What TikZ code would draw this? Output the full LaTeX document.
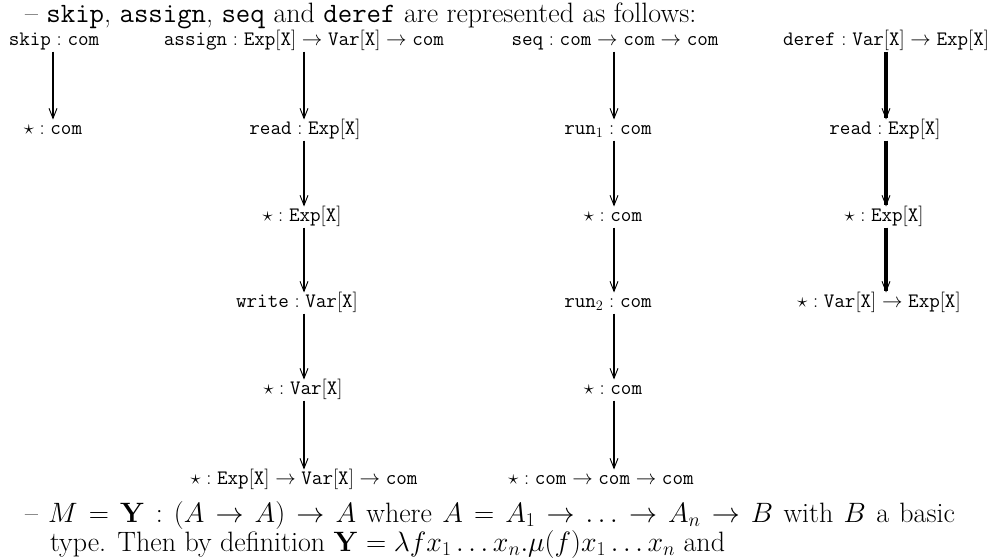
\RequirePackage{fix-cm}
\documentclass[tikz,border=0pt]{standalone}
\usetikzlibrary{arrows.meta}
\tikzset{
  body/.style={inner sep=0pt, outer sep=0pt, anchor=base west, font=\fontsize{28}{34}\selectfont},
  lbl/.style={inner sep=0pt, outer sep=0pt, text height=14pt, text depth=5pt, font=\fontsize{20.5}{24}\selectfont},
  arr/.style={line width=1.6pt, -{Straight Barb[length=10pt,width=8pt,line width=0.9pt]}, shorten <=1pt, shorten >=1pt},
  thickarr/.style={arr, line width=3.2pt}
}
\begin{document}
\begin{tikzpicture}[x=1pt,y=-1pt]
\useasboundingbox (0,0) rectangle (996,558);
% top text
\node[body, text depth=0pt] (top) at (25,22) {-- \texttt{skip}, \texttt{assign}, \texttt{seq} and \texttt{deref} are represented as follows:};
% column coordinates
\coordinate (c1) at (53,0);
\coordinate (c2) at (304,0);
\coordinate (c3) at (614,0);
\coordinate (c4) at (886,0);
% column 1
\node[lbl] (s0) at (54,41) {$\mathtt{skip} : \mathtt{com}$};
\node[lbl] (s1) at (53,130) {$\star : \mathtt{com}$};
% column 2
\node[lbl] (a0) at (304,41) {$\mathtt{assign} : \mathtt{Exp[X]} \to \mathtt{Var[X]} \to \mathtt{com}$};
\node[lbl] (a1) at (305,130) {$\mathtt{read} : \mathtt{Exp[X]}$};
\node[lbl] (a2) at (302,217) {$\star : \mathtt{Exp[X]}$};
\node[lbl] (a3) at (297,303) {$\mathtt{write} : \mathtt{Var[X]}$};
\node[lbl] (a4) at (303,390) {$\star : \mathtt{Var[X]}$};
\node[lbl] (a5) at (304,480) {$\star : \mathtt{Exp[X]} \to \mathtt{Var[X]} \to \mathtt{com}$};
% column 3
\node[lbl] (q0) at (615,41) {$\mathtt{seq} : \mathtt{com} \to \mathtt{com} \to \mathtt{com}$};
\node[lbl] (q1) at (608,130) {$\mathtt{run}_1 : \mathtt{com}$};
\node[lbl] (q2) at (613,217) {$\star : \mathtt{com}$};
\node[lbl] (q3) at (608,303) {$\mathtt{run}_2 : \mathtt{com}$};
\node[lbl] (q4) at (613,390) {$\star : \mathtt{com}$};
\node[lbl] (q5) at (601,480) {$\star : \mathtt{com} \to \mathtt{com} \to \mathtt{com}$};
% column 4
\node[lbl] (d0) at (886,41) {$\mathtt{deref} : \mathtt{Var[X]} \to \mathtt{Exp[X]}$};
\node[lbl] (d1) at (885,130) {$\mathtt{read} : \mathtt{Exp[X]}$};
\node[lbl] (d2) at (884,217) {$\star : \mathtt{Exp[X]}$};
\node[lbl] (d3) at (879,303) {$\star : \mathtt{Var[X]} \to \mathtt{Exp[X]}$};
% arrows
\draw[arr] (s0.south -| c1) -- (s1.north -| c1);
\draw[arr] (a0.south -| c2) -- (a1.north -| c2);
\draw[arr] (a1.south -| c2) -- (a2.north -| c2);
\draw[arr] (a2.south -| c2) -- (a3.north -| c2);
\draw[arr] (a3.south -| c2) -- (a4.north -| c2);
\draw[arr] (a4.south -| c2) -- (a5.north -| c2);
\draw[arr] (q0.south -| c3) -- (q1.north -| c3);
\draw[arr] (q1.south -| c3) -- (q2.north -| c3);
\draw[arr] (q2.south -| c3) -- (q3.north -| c3);
\draw[arr] (q3.south -| c3) -- (q4.north -| c3);
\draw[arr] (q4.south -| c3) -- (q5.north -| c3);
\draw[thickarr] (d0.south -| c4) -- (d1.north -| c4);
\draw[thickarr] (d1.south -| c4) -- (d2.north -| c4);
\draw[thickarr] (d2.south -| c4) -- (d3.north -| c4);
% bottom text
\node[body] (b1) at (25,522) {\hbox to 930pt{-- $M = \mathbf{Y} : (A \to A) \to A$ where $A = A_1 \to \ldots \to A_n \to B$ with $B$ a basic}};
\node[body] (b2) at (50,551) {type. Then by definition $\mathbf{Y} = \lambda f x_1 \ldots x_n . \mu(f) x_1 \ldots x_n$ and};
\end{tikzpicture}
\end{document}
